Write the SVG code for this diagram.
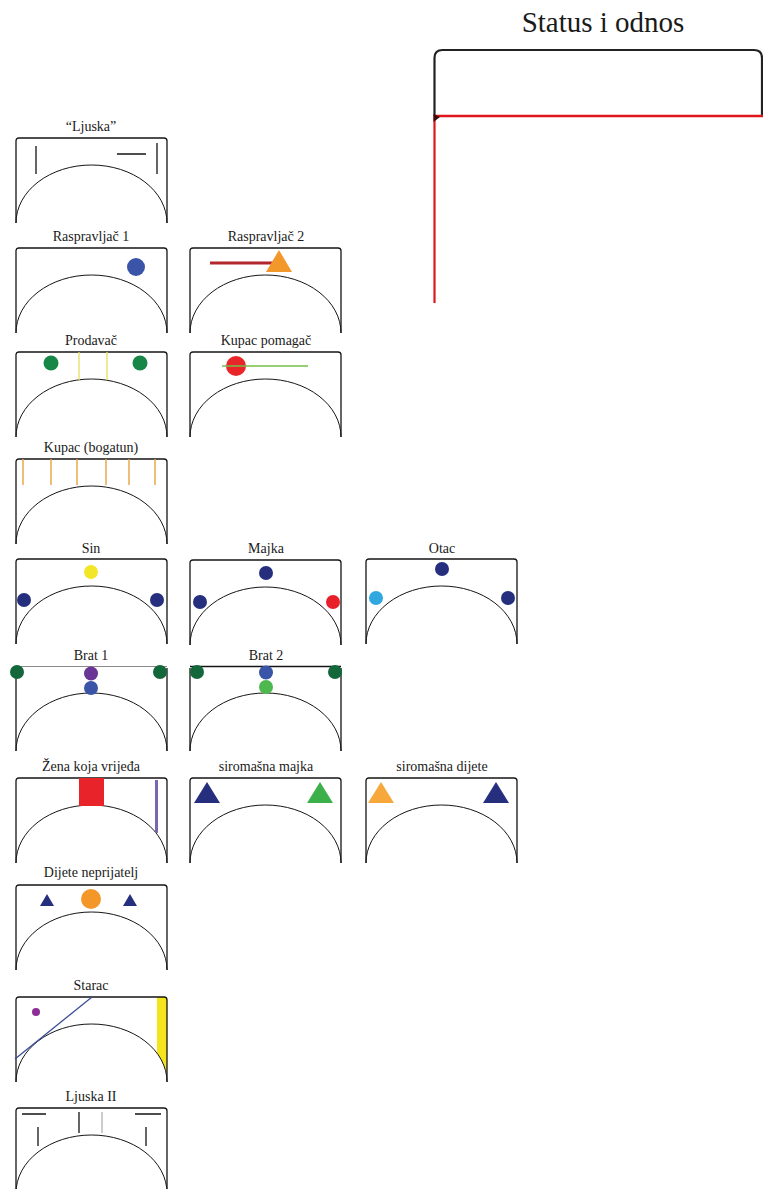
<svg xmlns="http://www.w3.org/2000/svg" xmlns:xlink="http://www.w3.org/1999/xlink" width="763" height="1189" viewBox="0 0 763 1189">
<style>
.frame{fill:none;stroke:#151515;stroke-width:1.3}
.arc{fill:none;stroke:#151515;stroke-width:1}
.lbl{font-family:"Liberation Serif","Times New Roman",serif;font-size:14px;text-anchor:middle;fill:#1a1a1a}
.blk{stroke:#151515;stroke-width:1.3}
.navy{fill:#252f7e}
.blue{fill:#3a55a8}
.dgreen{fill:#12683a}
</style>
<defs>
<path id="frame" class="frame" d="M0 85 V3 Q0 0 3 0 H148 Q151 0 151 3 V85"/>
<path id="sides" class="frame" d="M0 85 V2 M151 2 V85"/>
<path id="arc" class="arc" d="M0 85 A75.5 58 0 0 1 151 85"/>
</defs>
<rect width="763" height="1189" fill="#fff"/>

<g id="status">
<text x="603" y="32" font-family="Liberation Serif,serif" font-size="29" text-anchor="middle" fill="#1a1a1a">Status i odnos</text>
<path d="M434.5 116 V58 Q434.5 50 442.5 50 H754 Q762 50 762 58 V116" fill="none" stroke="#222" stroke-width="2.2"/>
<path d="M434.5 116 H763" stroke="#e0161e" stroke-width="2.4"/>
<path d="M434.5 116 V303" stroke="#e0161e" stroke-width="2.2"/>
<path d="M433.5 114 L440 117 L433.5 122 Z" fill="#3a0a0a"/>
</g>

<g id="ljuska" transform="translate(16,138)">
<use xlink:href="#frame"/><use xlink:href="#arc"/>
<path class="blk" d="M20 8 V36 M141 5 V36 M101 16 H130"/>
</g>
<text class="lbl" x="91" y="131">“Ljuska”</text>

<g id="raspravljac1" transform="translate(16,248)">
<use xlink:href="#frame"/><use xlink:href="#arc"/>
<circle class="blue" cx="120" cy="19" r="9"/>
</g>
<text class="lbl" x="91" y="241">Raspravljač 1</text>

<g id="raspravljac2" transform="translate(190,248)">
<use xlink:href="#frame"/><use xlink:href="#arc"/>
<path d="M20 15 H87" stroke="#b3262c" stroke-width="3"/>
<polygon points="89,2 102,24 76,24" fill="#f2982a"/>
</g>
<text class="lbl" x="266" y="241">Raspravljač 2</text>

<g id="prodavac" transform="translate(16,352)">
<use xlink:href="#frame"/><use xlink:href="#arc"/>
<path d="M63 0 V28 M91 0 V28" stroke="#e6df5a" stroke-width="1.3"/>
<circle class="dgreen" cx="35" cy="11" r="7.5" style="fill:#168746"/>
<circle cx="124" cy="11" r="7.5" fill="#168746"/>
</g>
<text class="lbl" x="91" y="345">Prodavač</text>

<g id="kupac-pomagac" transform="translate(190,352)">
<use xlink:href="#frame"/><use xlink:href="#arc"/>
<circle cx="46" cy="14" r="10" fill="#e8262a"/>
<path d="M32 14 H118" stroke="#74bf4a" stroke-width="1.3"/>
</g>
<text class="lbl" x="266" y="345">Kupac pomagač</text>

<g id="kupac-bogatun" transform="translate(16,459)">
<use xlink:href="#frame"/><use xlink:href="#arc"/>
<path d="M7 0 V26 M35 0 V26 M61 0 V26 M90 0 V26 M113 0 V26 M139 0 V26" stroke="#e6a441" stroke-width="1.4"/>
</g>
<text class="lbl" x="91" y="452">Kupac (bogatun)</text>

<g id="sin" transform="translate(16,559)">
<use xlink:href="#frame"/><use xlink:href="#arc"/>
<circle cx="75" cy="13" r="7" fill="#f3e629"/>
<circle class="navy" cx="8" cy="41" r="7"/>
<circle class="navy" cx="141" cy="41" r="7"/>
</g>
<text class="lbl" x="91" y="553">Sin</text>

<g id="majka" transform="translate(190,560)">
<use xlink:href="#frame"/><use xlink:href="#arc"/>
<circle class="navy" cx="76" cy="13" r="7"/>
<circle class="navy" cx="10" cy="42" r="7"/>
<circle cx="143" cy="42" r="7" fill="#e8202a"/>
</g>
<text class="lbl" x="266" y="553">Majka</text>

<g id="otac" transform="translate(366,559)">
<use xlink:href="#frame"/><use xlink:href="#arc"/>
<circle class="navy" cx="76" cy="10" r="7"/>
<circle cx="10" cy="39" r="7" fill="#30a8df"/>
<circle class="navy" cx="142" cy="39" r="7"/>
</g>
<text class="lbl" x="442" y="553">Otac</text>

<g id="brat1" transform="translate(16,666)">
<use xlink:href="#sides"/><use xlink:href="#arc"/>
<path d="M0 0.5 H151" stroke="#8a8a8a" stroke-width="1"/>
<circle class="dgreen" cx="1" cy="6" r="7"/>
<circle class="dgreen" cx="144" cy="6" r="7"/>
<circle cx="75" cy="7.5" r="7" fill="#6b3595"/>
<circle class="blue" cx="75" cy="22" r="7"/>
</g>
<text class="lbl" x="91" y="660">Brat 1</text>

<g id="brat2" transform="translate(190,666)">
<use xlink:href="#sides"/><use xlink:href="#arc"/>
<path class="blk" d="M0 0.5 H151"/>
<circle class="dgreen" cx="7" cy="6" r="7"/>
<circle class="dgreen" cx="145" cy="6" r="7"/>
<circle class="blue" cx="76" cy="6.5" r="7"/>
<circle cx="76" cy="21" r="7" fill="#4db84d"/>
</g>
<text class="lbl" x="266" y="660">Brat 2</text>

<g id="zena" transform="translate(16,778)">
<use xlink:href="#frame"/><use xlink:href="#arc"/>
<rect x="63" y="0" width="25" height="28" fill="#e8232a"/>
<rect x="139" y="2" width="3" height="53" fill="#7a66ae"/>
</g>
<text class="lbl" x="91" y="771">Žena koja vrijeđa</text>

<g id="siromasna-majka" transform="translate(190,778)">
<use xlink:href="#frame"/><use xlink:href="#arc"/>
<polygon class="navy" points="17,4 30,25 4,25"/>
<polygon points="130,4 143,25 117,25" fill="#3cb049"/>
</g>
<text class="lbl" x="266" y="771">siromašna majka</text>

<g id="siromasna-dijete" transform="translate(366,778)">
<use xlink:href="#frame"/><use xlink:href="#arc"/>
<polygon points="15,4 28,25 2,25" fill="#f6a93a"/>
<polygon class="navy" points="130,4 143,25 117,25"/>
</g>
<text class="lbl" x="442" y="771">siromašna dijete</text>

<g id="dijete-neprijatelj" transform="translate(16,885)">
<use xlink:href="#frame"/><use xlink:href="#arc"/>
<polygon class="navy" points="31,9 38,21 24,21"/>
<polygon class="navy" points="114,9 121,21 107,21"/>
<circle cx="75" cy="14" r="10" fill="#f39729"/>
</g>
<text class="lbl" x="91" y="877">Dijete neprijatelj</text>

<g id="starac" transform="translate(16,997)">
<path d="M141 0 H151 V80 A75.5 58 0 0 0 141 56.2 Z" fill="#f4e41c"/>
<use xlink:href="#frame"/><use xlink:href="#arc"/>
<circle cx="20" cy="15" r="4" fill="#8b2f95"/>
<path d="M76 0 L-1 62" stroke="#3d4f98" stroke-width="1.3"/>
</g>
<text class="lbl" x="91" y="990">Starac</text>

<g id="ljuska2" transform="translate(16,1108)">
<use xlink:href="#frame"/><use xlink:href="#arc"/>
<path class="blk" d="M6 6 H30 M119 6 H145 M22 19 V38 M130 19 V38 M63 4 V25"/>
<path d="M86 4 V25" stroke="#999" stroke-width="1"/>
</g>
<text class="lbl" x="91" y="1101">Ljuska II</text>
</svg>
